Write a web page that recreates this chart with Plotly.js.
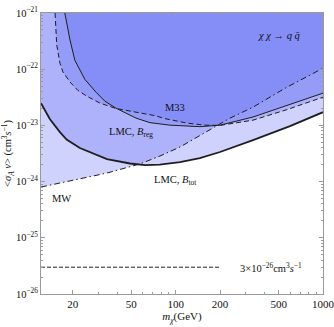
<!DOCTYPE html>
<html>
<head>
<meta charset="utf-8">
<script src="https://cdn.plot.ly/plotly-3.0.1.min.js"></script>
<style>
  html, body { margin: 0; padding: 0; background: #fff; }
  #chart { width: 334px; height: 327px; }
</style>
</head>
<body>
<div id="chart"></div>
<script>
// ---- data (mass in GeV, <sigma v> in cm^3/s) ----
const massBtot  = [12.2, 14.0, 16.4, 18.2, 22.4, 34.2, 49, 62, 78, 107, 146, 200, 335, 597, 1000];
const sigmaBtot = [2.49e-23, 1.3e-23, 7.6e-24, 5.6e-24, 3.95e-24, 2.52e-24, 2.10e-24, 1.97e-24,
                   2.01e-24, 2.23e-24, 2.62e-24, 3.36e-24, 5.48e-24, 9.73e-24, 1.72e-23];

const massBreg  = [17.7, 18.3, 19.2, 20.7, 24.2, 28.8, 33.1, 39.3, 53.8, 66.9, 91.5, 146, 200, 335, 570, 1000];
const sigmaBreg = [1e-21, 6.0e-22, 3.3e-22, 1.44e-22, 6.6e-23, 3.9e-23, 2.7e-23, 2.03e-23, 1.35e-23,
                   1.12e-23, 1.01e-23, 9.5e-24, 1.01e-23, 1.41e-23, 2.30e-23, 3.75e-23];

const massM33  = [15.2, 15.4, 15.6, 16.4, 17.2, 19.2, 21.7, 25.0, 30.6, 39.3, 48.9, 60.0, 72.4, 84.6,
                  119, 158, 200, 335, 570, 1000];
const sigmaM33 = [1e-21, 4.9e-22, 2.7e-22, 1.28e-22, 8.9e-23, 5.9e-23, 4.2e-23, 3.3e-23, 2.5e-23, 2.0e-23,
                  1.8e-23, 1.65e-23, 1.49e-23, 1.32e-23, 1.10e-23, 1.01e-23, 1.0e-23, 1.24e-23, 1.91e-23, 3.18e-23];

const massMW  = [12.2, 20.1, 34.2, 57.2, 78.2, 107, 171, 234, 335, 570, 1000];
const sigmaMW = [8.0e-25, 1.07e-24, 1.42e-24, 2.06e-24, 2.85e-24, 4.12e-24, 8.3e-24, 1.35e-23,
                 2.11e-23, 4.8e-23, 1.04e-22];

const massThermal  = [12.2, 200];
const sigmaThermal = [3e-26, 3e-26];

const xTickVals = [20, 50, 100, 200, 500, 1000];
const xTickText = ['20', '50', '100', '200', '500', '1000'];
const yTickVals = [1e-26, 1e-25, 1e-24, 1e-23, 1e-22, 1e-21];
const yTickText = yTickVals.map((v) => '10<sup>−' + Math.round(-Math.log10(v)) + '</sup>');

const X_MIN = 12.2, X_MAX = 1000, Y_MIN = 1e-26, Y_MAX = 1e-21;

// ---- build traces --------------------------------------------------
const FILL = 'rgba(95,105,245,0.30)';
const INK = '#1e1e1e';

// region above a curve, closed along the top (and left) frame
function excluded(xs, ys) {
  const x = xs.slice(), y = ys.slice();
  x.push(X_MAX);
  y.push(Y_MAX);
  if (ys[0] < Y_MAX) { x.push(xs[0]); y.push(Y_MAX); }
  return { x, y, type: 'scatter', mode: 'lines', fill: 'toself', fillcolor: FILL,
           line: { width: 0 }, hoverinfo: 'skip', showlegend: false };
}
function curve(xs, ys, width, dash) {
  return { x: xs, y: ys, type: 'scatter', mode: 'lines', showlegend: false,
           line: { color: INK, width, dash } };
}

const minorX = [];
for (let d = 10; d <= 1000; d *= 10)
  for (let k = 1; k < 10; k++) { const v = k * d; if (v > X_MIN && v < X_MAX && !xTickVals.includes(v)) minorX.push(v); }
const minorY = [];
for (let e = -26; e < -21; e++)
  for (let k = 2; k < 10; k++) minorY.push(k * Math.pow(10, e));

const data = [
  excluded(massMW, sigmaMW),
  excluded(massBtot, sigmaBtot),
  excluded(massM33, sigmaM33),
  excluded(massBreg, sigmaBreg),
  curve(massMW, sigmaMW, 1, '6px,3px,1.5px,3px'),
  curve(massM33, sigmaM33, 1, '5px,3px'),
  curve(massBreg, sigmaBreg, 1, 'solid'),
  curve(massBtot, sigmaBtot, 1.8, 'solid'),
  curve(massThermal, sigmaThermal, 1, '4px,2px'),
];

const FONT = 'Liberation Serif, Times New Roman, serif';
const axisCommon = {
  type: 'log', showgrid: false, zeroline: false,
  showline: true, linecolor: '#9a9a9a', linewidth: 1, mirror: 'ticks',
  ticks: 'inside', ticklen: 4, tickcolor: '#9a9a9a', tickmode: 'array',
  ticklabeloverflow: 'allow',
  tickfont: { family: FONT, size: 11, color: '#111' },
};

const layout = {
  width: 334, height: 327,
  margin: { l: 41, r: 11, t: 13, b: 33 },
  paper_bgcolor: '#fff', plot_bgcolor: '#fff',
  font: { family: FONT, size: 11, color: '#111' },
  showlegend: false,
  xaxis: {
    ...axisCommon,
    range: [Math.log10(X_MIN), Math.log10(X_MAX)],
    tickvals: xTickVals, ticktext: xTickText,
    minor: { tickmode: 'array', tickvals: minorX, ticks: 'inside', ticklen: 2, tickcolor: '#9a9a9a' },
    title: { text: '<i>m</i><sub><i>χ</i></sub>(GeV)', font: { family: FONT, size: 11 }, standoff: 3 },
  },
  yaxis: {
    ...axisCommon,
    tickfont: { family: FONT, size: 10.5, color: '#111' },
    range: [Math.log10(Y_MIN), Math.log10(Y_MAX)],
    tickvals: yTickVals, ticktext: yTickText,
    minor: { tickmode: 'array', tickvals: minorY, ticks: 'inside', ticklen: 2, tickcolor: '#9a9a9a' },
    title: { text: '&lt;<i>σ</i><sub><i>A</i></sub> <i>v</i>&gt; (cm<sup>3</sup><i>s</i><sup>−1</sup>)',
             font: { family: FONT, size: 10.5 }, standoff: 2 },
  },
  annotations: [
    { text: '<i>χ χ</i> → <i>q</i> <i>q̄</i>', x: 0.844, y: 0.921 },
    { text: 'M33', x: 0.475, y: 0.665 },
    { text: 'LMC, <i>B</i><sub>reg</sub>', x: 0.318, y: 0.576 },
    { text: 'LMC, <i>B</i><sub>tot</sub>', x: 0.475, y: 0.405 },
    { text: 'MW', x: 0.071, y: 0.341 },
    { text: '3×10<sup>−26</sup>cm<sup>3</sup><i>s</i><sup>−1</sup>', x: 0.816, y: 0.093 },
  ].map((a) => ({ ...a, xref: 'paper', yref: 'paper', showarrow: false,
                  xanchor: 'center', yanchor: 'middle', font: { family: FONT, size: 10.5, color: '#111' } })),
};

Plotly.newPlot('chart', data, layout, { displayModeBar: false, staticPlot: true });
</script>
</body>
</html>
